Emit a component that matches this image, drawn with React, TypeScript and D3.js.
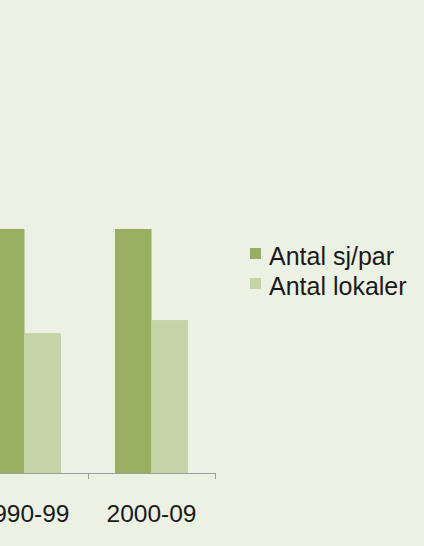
import * as d3 from 'd3';
import React from 'react';

// Decades shown in the (cropped) chart
const periods = ['1990-99', '2000-09'];
const seriesNames = ['Antal sj/par', 'Antal lokaler'];
const antalSjPar = [30, 30];
const antalLokaler = [17.2, 18.8];
const seriesColors = ['#98AE60', '#C4D4A7'];

const width = 424;
const height = 546;
const baseline = 473;

export default function App() {
  // the chart is cropped on the left, so the first band starts off-screen
  const x = d3.scaleBand<string>().domain(periods).range([-39, 215]).padding(0);
  const inner = d3
    .scaleBand<number>()
    .domain([0, 1])
    .range([0, x.bandwidth()])
    .paddingOuter(0.74)
    .paddingInner(0);
  const y = d3.scaleLinear().domain([0, 30]).range([baseline, 229]);

  const values = [antalSjPar, antalLokaler];
  const ticks = [...periods.map((p) => x(p) as number), 215];

  return (
    <svg
      width={width}
      height={height}
      style={{ position: 'absolute', left: 0, top: 0, background: '#ECF1E4' }}
      fontFamily="'Liberation Sans', Arial, sans-serif"
    >
      <rect width={width} height={height} fill="#ECF1E4" />
      {periods.map((p, i) => (
        <g key={p} transform={`translate(${x(p)},0)`}>
          {values.map((s, k) => (
            <rect
              key={k}
              x={inner(k)}
              y={y(s[i])}
              width={inner.bandwidth()}
              height={baseline - y(s[i])}
              fill={seriesColors[k]}
            />
          ))}
          <text
            x={x.bandwidth() / 2}
            y={522}
            textAnchor="middle"
            fontSize={24.5}
            fill="#1a1a1a"
          >
            {p}
          </text>
        </g>
      ))}
      <line x1={-39} x2={215} y1={baseline + 0.5} y2={baseline + 0.5} stroke="#9d9d9d" />
      {ticks.map((t, i) => (
        <line key={i} x1={t + 0.5} x2={t + 0.5} y1={baseline} y2={baseline + 6} stroke="#9d9d9d" />
      ))}
      {seriesNames.map((n, k) => (
        <g key={n} transform={`translate(250,${248 + k * 30})`}>
          <rect width={11} height={11} fill={seriesColors[k]} />
          <text x={19} y={17} fontSize={25} fill="#1a1a1a">
            {n}
          </text>
        </g>
      ))}
    </svg>
  );
}
